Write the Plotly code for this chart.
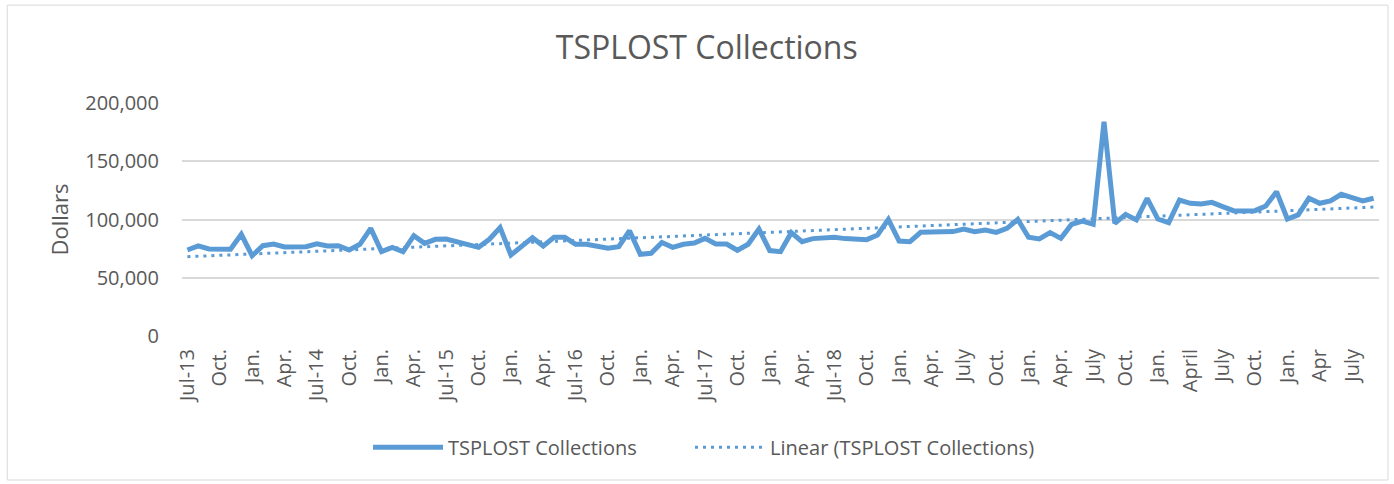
import numpy as np
import plotly.graph_objects as go

# monthly TSPLOST collections, Jul 2013 - Sep 2022
collections = [
    73800, 77300, 74700, 74700, 74400, 87300, 68900, 77500, 79000, 76400, 76400, 76700,
    79200, 77300, 77500, 73800, 78700, 92400, 72400, 76100, 72400, 86100, 79500, 83000,
    83300, 81000, 78700, 76100, 83000, 93000, 69500, 76700, 84400, 77300, 84700, 84700,
    78700, 78700, 76700, 75300, 76700, 90400, 70100, 71000, 80300, 76100, 78700, 79800,
    83800, 79000, 79000, 73600, 78700, 91800, 73300, 72400, 88700, 81000, 83600, 83800,
    84700, 83600, 83300, 82700, 86700, 100100, 81500, 81000, 89000, 89000, 89300, 89600,
    91800, 89600, 91000, 89000, 92400, 100100, 84700, 83300, 88700, 83800, 95900, 98700,
    95900, 184000, 96700, 104400, 99600, 118200, 100400, 97300, 116700, 113900, 113300, 114700,
    111000, 107600, 107300, 107600, 111600, 123900, 100400, 103900, 118200, 113900, 115900, 121600,
    118700, 115900, 118200,
]

# every third month gets a label
tick_labels = [
    "Jul-13", "Oct.", "Jan.", "Apr.", "Jul-14", "Oct.", "Jan.", "Apr.",
    "Jul-15", "Oct.", "Jan.", "Apr.", "Jul-16", "Oct.", "Jan.", "Apr.",
    "Jul-17", "Oct.", "Jan.", "Apr.", "Jul-18", "Oct.", "Jan.", "Apr.",
    "July", "Oct.", "Jan.", "Apr.", "July", "Oct.", "Jan.", "April",
    "July", "Oct.", "Jan.", "Apr", "July",
]

y_ticks = [0, 50000, 100000, 150000, 200000]

idx = np.arange(len(collections))
tick_pos = idx[::3][:len(tick_labels)]

# linear trendline like Excel's
slope, intercept = np.polyfit(idx, collections, 1)
trend = slope * idx + intercept

blue = '#5B9BD5'
grey = '#595959'
font = 'Open Sans'

fig = go.Figure()
fig.add_trace(go.Scatter(x=idx, y=collections, mode='lines', name='TSPLOST Collections',
                         line=dict(color=blue, width=5), legend='legend'))
fig.add_trace(go.Scatter(x=idx, y=trend, mode='lines', name='Linear (TSPLOST Collections)',
                         line=dict(color=blue, width=3, dash='3px,5px'), legend='legend2'))

# two legends so the gap between entries matches the Excel layout
leg = dict(orientation='h', xref='container', xanchor='left',
           yref='container', y=0.076, yanchor='middle',
           font=dict(size=20, color=grey), itemwidth=70)

fig.update_layout(
    width=1394, height=484,
    margin=dict(l=182, r=15, t=103, b=148),
    paper_bgcolor='white', plot_bgcolor='white',
    font=dict(family=font, color=grey, size=20),
    title=dict(text='TSPLOST Collections', font=dict(size=32, color=grey),
               xref='container', x=0.507, xanchor='center',
               yref='container', y=0.901, yanchor='middle'),
    legend=dict(leg, x=0.264),
    legend2=dict(leg, x=0.495),
    showlegend=True,
)
fig.update_xaxes(range=[-0.5, len(collections) - 0.5], tickvals=tick_pos, ticktext=tick_labels,
                 tickangle=-90, showgrid=False, zeroline=False, showline=False, ticks='',
                 ticklabelstandoff=8, tickfont=dict(size=20))
fig.update_yaxes(range=[0, 200000], tickvals=y_ticks, tickformat=',', showgrid=True,
                 gridcolor='#D9D9D9', gridwidth=1.5, zeroline=False, showline=False, ticks='',
                 ticklabelstandoff=22, tickfont=dict(size=20),
                 title=dict(text='Dollars', font=dict(size=22, color=grey), standoff=10))

# light chart border like the Excel chart area
fig.add_shape(type='rect', xref='paper', yref='paper', x0=-0.146, x1=1.0075, y0=-0.618, y1=1.42,
              line=dict(color='#D9D9D9', width=1), layer='below')

fig.write_html("out.html", config={'displayModeBar': False},
               post_script="document.body.style.margin='0';")
